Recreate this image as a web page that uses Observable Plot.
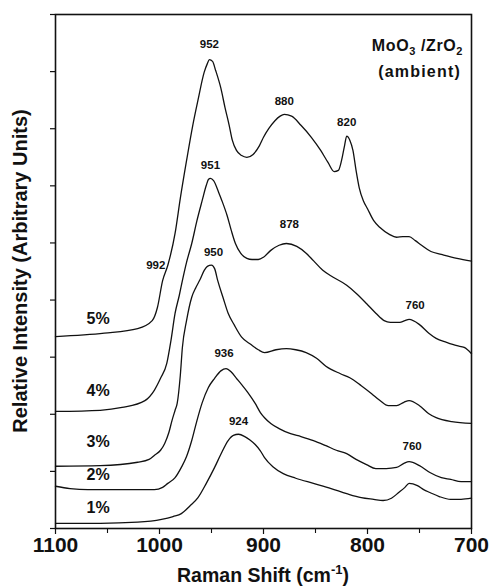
<!DOCTYPE html>
<html>
<head>
<meta charset="utf-8">
<script src="https://cdn.jsdelivr.net/npm/d3@7"></script>
<script src="https://cdn.jsdelivr.net/npm/@observablehq/plot@0.6"></script>
<style>
  html, body { margin: 0; padding: 0; background: #fff; }
  #chart svg { display: block; }
</style>
</head>
<body>
<div id="chart"></div>
<script>
// Raman spectra of MoO3/ZrO2 at several Mo loadings (ambient), stacked with offsets.
const loadings = ["1%", "2%", "3%", "4%", "5%"];

const wn1 = [1100,1057,1021,998,987,979,971,963,955,947,941,934,929,924,918,913,908,903,899,891,881,869,852,835,820,806,794,785,777,770,764,760,752,746,740,731,720,710,700];
const int1 = [0.09,0.09,0.11,0.16,0.21,0.26,0.39,0.54,0.79,1.07,1.30,1.54,1.63,1.65,1.61,1.55,1.47,1.36,1.24,1.08,0.96,0.88,0.79,0.70,0.61,0.54,0.51,0.49,0.53,0.63,0.72,0.79,0.75,0.68,0.63,0.56,0.51,0.51,0.53];

const wn2 = [1100,1086,1069,1037,1005,997,992,985,979,974,969,964,959,953,947,941,936,931,926,921,915,908,903,899,893,885,874,864,852,840,830,820,811,801,792,782,772,765,760,750,740,729,720,710,700];
const int2 = [0.74,0.70,0.68,0.68,0.68,0.72,0.79,0.89,1.07,1.26,1.54,1.89,2.20,2.47,2.63,2.76,2.80,2.74,2.63,2.52,2.38,2.19,2.03,1.94,1.84,1.75,1.66,1.61,1.54,1.45,1.37,1.31,1.21,1.12,1.05,1.05,1.07,1.14,1.17,1.10,0.98,0.89,0.86,0.82,0.82];

const wn3 = [1100,1057,1021,1010,1005,999,995,991,988,985,983,980,978,974,969,965,961,957,954,950,947,944,939,934,928,921,912,905,899,888,878,869,859,849,840,826,817,806,796,788,780,772,765,760,750,741,734,719,700];
const int3 = [1.09,1.10,1.16,1.21,1.28,1.37,1.49,1.68,1.89,2.07,2.19,2.68,3.17,3.64,4.05,4.22,4.36,4.52,4.59,4.61,4.55,4.34,4.05,3.77,3.56,3.35,3.22,3.13,3.08,3.13,3.15,3.13,3.08,2.98,2.84,2.71,2.64,2.50,2.36,2.24,2.15,2.15,2.21,2.24,2.15,2.01,1.94,1.87,1.84];

const wn4 = [1100,1057,1036,1014,1005,999,993,989,985,981,978,974,969,964,959,955,953,951,948,943,940,935,931,927,922,916,911,905,900,893,885,878,868,859,852,843,833,820,811,801,792,784,778,769,764,760,750,741,734,724,714,707,700];
const int4 = [2.05,2.07,2.12,2.24,2.42,2.63,2.89,3.29,3.77,4.08,4.34,4.66,4.99,5.39,5.74,6.01,6.11,6.13,6.09,5.88,5.74,5.48,5.22,4.99,4.82,4.73,4.71,4.71,4.75,4.87,4.96,4.99,4.94,4.82,4.69,4.52,4.40,4.26,4.12,3.94,3.77,3.64,3.61,3.61,3.64,3.66,3.57,3.42,3.33,3.26,3.20,3.17,3.06];

const wn5 = [1100,1053,1021,1007,1002,997,992,985,980,974,968,963,957,954,952,949,946,941,937,933,930,926,921,916,910,904,900,895,889,884,880,873,864,854,845,838,832,828,825,822,820,817,814,811,808,804,800,794,788,779,772,766,760,754,748,739,729,714,700];
const int5 = [3.36,3.42,3.50,3.64,3.87,4.34,4.61,5.17,5.78,6.44,7.06,7.50,7.99,8.14,8.21,8.18,8.02,7.71,7.37,7.06,6.80,6.62,6.53,6.50,6.55,6.70,6.85,7.00,7.14,7.22,7.25,7.22,7.06,6.85,6.62,6.41,6.25,6.27,6.44,6.71,6.87,6.80,6.62,6.27,5.97,5.74,5.60,5.39,5.27,5.15,5.10,5.11,5.11,5.04,4.96,4.85,4.80,4.73,4.68];

// Annotated band positions (cm-1) and the spectrum each belongs to
const bandSeries = ["5%", "5%", "5%", "4%", "4%", "3%", "2%", "1%", "4%", "2%", "5%"];
const bandWn     = [952, 880, 820, 951, 878, 950, 936, 924, 760, 760, 992];

// Intensity axis ticks (arbitrary units, unlabeled)
const yTicks = [0, 1, 2, 3, 4, 5, 6, 7, 8, 9];
const xMajorTicks = [1100, 1000, 900, 800, 700];
const xMinorTicks = [1050, 950, 850, 750];

const spectra = {
  "1%": wn1.map((w, i) => ({loading: "1%", wn: w, intensity: int1[i]})),
  "2%": wn2.map((w, i) => ({loading: "2%", wn: w, intensity: int2[i]})),
  "3%": wn3.map((w, i) => ({loading: "3%", wn: w, intensity: int3[i]})),
  "4%": wn4.map((w, i) => ({loading: "4%", wn: w, intensity: int4[i]})),
  "5%": wn5.map((w, i) => ({loading: "5%", wn: w, intensity: int5[i]}))
};
const allPoints = loadings.flatMap(k => spectra[k]);

// band labels sit just above the spectrum point at that wavenumber
const bands = bandWn.map((w, i) => {
  const s = spectra[bandSeries[i]];
  const p = s.reduce((a, b) => Math.abs(b.wn - w) < Math.abs(a.wn - w) ? b : a);
  return {loading: bandSeries[i], wn: w, intensity: p.intensity, text: String(w), key: bandSeries[i] + w};
});
// small pixel nudges for each band label
const bandNudge = {
  "5%952": [0, -15], "5%880": [0, -13], "5%820": [0, -14], "4%951": [0, -13],
  "4%878": [3, -19], "3%950": [2, -13], "2%936": [-2, -15], "1%924": [0, -13],
  "4%760": [6, -14], "2%760": [3, -15], "5%992": [-12, 0]
};
// loading tags above each baseline at the low-wavenumber end
const tagNudge = {"5%": -18, "4%": -21, "3%": -24, "2%": -11, "1%": -15};
const tags = loadings.map(k => ({loading: k, wn: 1059, intensity: spectra[k][0].intensity}));

const FONT = "'Liberation Sans', Arial, Helvetica, sans-serif";

const marks = [
  Plot.axisY({ticks: yTicks, tickSize: 5, tickFormat: () => "", label: null, stroke: "#111", strokeWidth: 1.2}),
  Plot.axisX({ticks: xMinorTicks, tickSize: 5, tickFormat: () => "", label: null, stroke: "#111", strokeWidth: 1.1}),
  Plot.axisX({ticks: xMajorTicks, tickSize: 6, tickPadding: 3, tickFormat: d => String(d), label: null,
    stroke: "#111", strokeWidth: 1.2, fontSize: 21, fontWeight: "bold", fill: "#111"}),
  Plot.frame({stroke: "#111", strokeWidth: 1.6}),
  Plot.line(allPoints, {x: "wn", y: "intensity", z: "loading", curve: "monotone-x",
    stroke: "#111", strokeWidth: 1.3}),
  ...bands.map(b => Plot.text([b], {x: "wn", y: "intensity", text: "text",
    dx: bandNudge[b.key][0], dy: bandNudge[b.key][1],
    fontSize: 11.5, fontWeight: "bold", fill: "#111", fontFamily: FONT})),
  ...tags.map(t => Plot.text([t], {x: "wn", y: "intensity", text: "loading", dy: tagNudge[t.loading],
    fontSize: 16, fontWeight: "bold", fill: "#111", fontFamily: FONT}))
];

const plot = Plot.plot({
  width: 491,
  height: 588,
  marginLeft: 55,
  marginRight: 20,
  marginTop: 14,
  marginBottom: 60,
  style: {fontFamily: FONT, background: "#fff", color: "#111"},
  x: {domain: [1100, 700]},
  y: {domain: [0, 9]},
  marks
});

document.getElementById("chart").appendChild(plot);

// Axis titles and sample annotation with sub/superscripts
const svg = d3.select(plot);
const xs = plot.scale("x"), ys = plot.scale("y");

const xt = svg.append("text")
  .attr("x", (xs.apply(1100) + xs.apply(700)) / 2).attr("y", 582)
  .attr("text-anchor", "middle")
  .attr("font-family", FONT).attr("font-weight", "bold").attr("font-size", 19.5).attr("fill", "#111");
xt.append("tspan").text("Raman Shift (cm");
xt.append("tspan").attr("font-size", 13).attr("dy", -8).text("-1");
xt.append("tspan").attr("dy", 8).text(")");

svg.append("text")
  .attr("transform", `translate(27, ${(ys.apply(0) + ys.apply(9)) / 2}) rotate(-90)`)
  .attr("text-anchor", "middle")
  .attr("font-family", FONT).attr("font-weight", "bold").attr("font-size", 20).attr("fill", "#111")
  .text("Relative Intensity (Arbitrary Units)");

const f = svg.append("text")
  .attr("x", 463).attr("y", 51).attr("text-anchor", "end")
  .attr("font-family", FONT).attr("font-weight", "bold").attr("font-size", 16).attr("fill", "#111")
  .attr("letter-spacing", 0.6);
f.append("tspan").text("MoO");
f.append("tspan").attr("font-size", 11).attr("dy", 4).text("3");
f.append("tspan").attr("dy", -4).text(" /ZrO");
f.append("tspan").attr("font-size", 11).attr("dy", 4).text("2");

svg.append("text")
  .attr("x", 461).attr("y", 77).attr("text-anchor", "end")
  .attr("font-family", FONT).attr("font-weight", "bold").attr("font-size", 16).attr("fill", "#111")
  .attr("letter-spacing", 1.2)
  .text("(ambient)");
</script>
</body>
</html>
